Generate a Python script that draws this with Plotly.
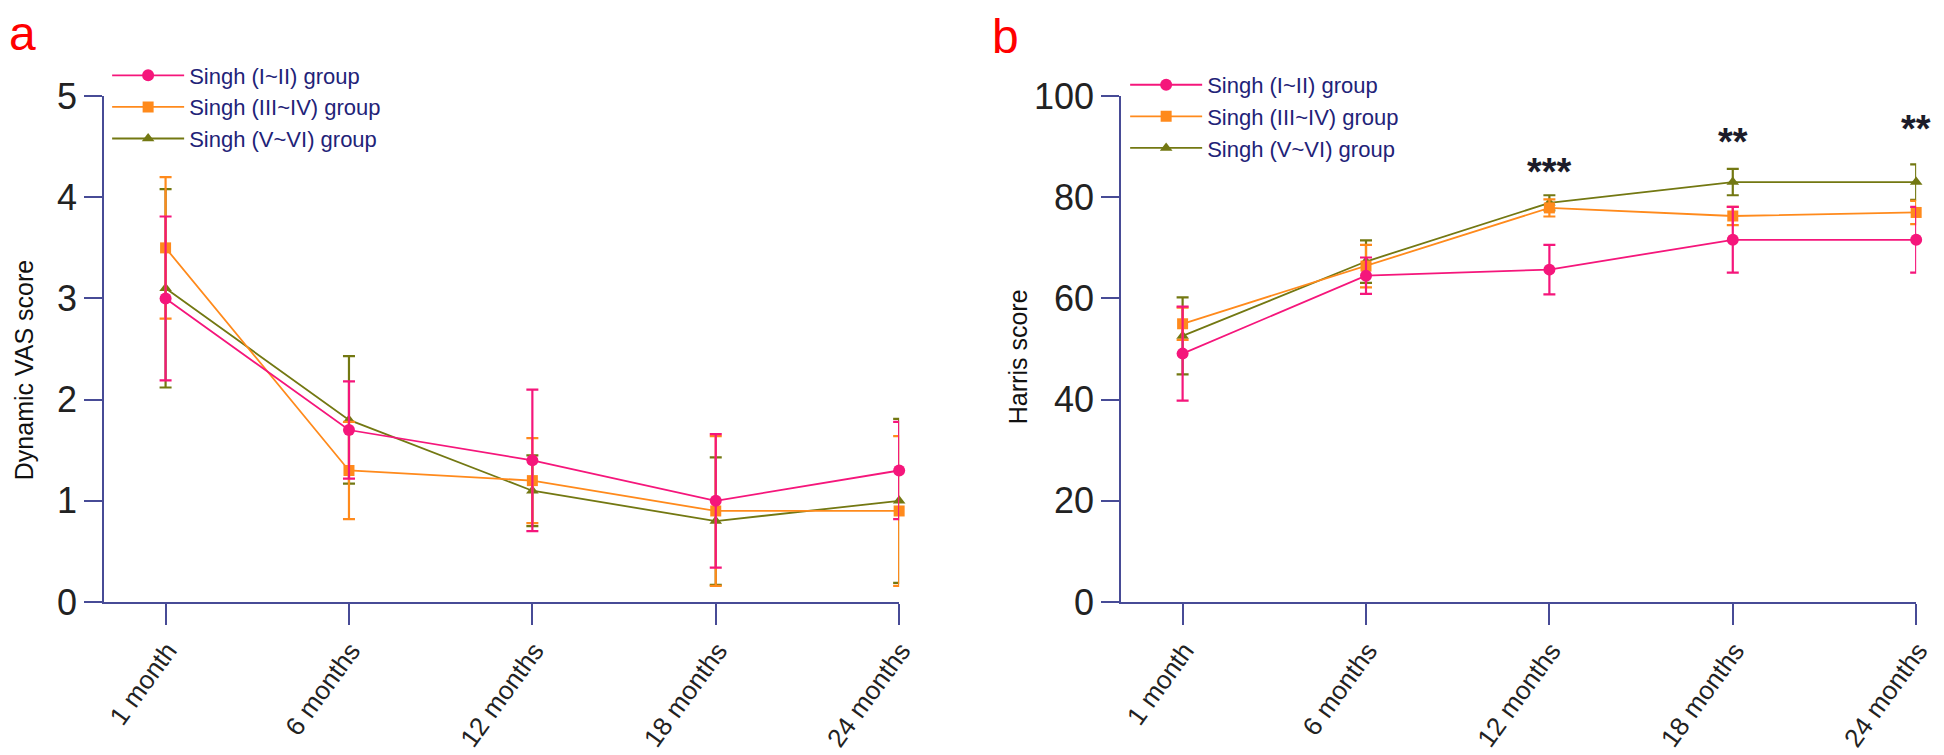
import plotly.graph_objects as go

categories = ["1 month", "6 months", "12 months", "18 months", "24 months"]
series_names = ["Singh (I~II) group", "Singh (III~IV) group", "Singh (V~VI) group"]

# Panel a: Dynamic VAS score (mean, SD)
vas_g1 = [3.0, 1.7, 1.4, 1.0, 1.3]
vas_g1_err = [0.81, 0.48, 0.70, 0.66, 0.48]
vas_g2 = [3.5, 1.3, 1.2, 0.9, 0.9]
vas_g2_err = [0.70, 0.48, 0.42, 0.74, 0.74]
vas_g3 = [3.1, 1.8, 1.1, 0.8, 1.0]
vas_g3_err = [0.98, 0.63, 0.35, 0.63, 0.81]

# Panel b: Harris score (mean, SD)
harris_g1 = [49.1, 64.5, 65.7, 71.6, 71.6]
harris_g1_err = [9.3, 3.6, 4.9, 6.5, 6.5]
harris_g2 = [55.0, 66.4, 77.9, 76.3, 77.0]
harris_g2_err = [3.2, 4.2, 1.7, 1.8, 2.3]
harris_g3 = [52.6, 67.3, 78.9, 83.0, 83.0]
harris_g3_err = [7.6, 4.2, 1.5, 2.6, 3.5]

sig_labels = ["***", "**", "**"]
sig_cats = ["12 months", "18 months", "24 months"]
sig_y = [85.0, 91.0, 93.5]

colors = ["#f5167b", "#ff8a1c", "#737812"]
symbols = ["circle", "square", "triangle-up"]
msizes = [12, 11, 11]

AXIS = "#474b96"
TEXT_BLUE = "#1f2378"
FONT = "Liberation Sans, Arial, sans-serif"

fig = go.Figure()

panels = [
    ("x", "y", "legend", [vas_g1, vas_g2, vas_g3], [vas_g1_err, vas_g2_err, vas_g3_err]),
    ("x2", "y2", "legend2", [harris_g1, harris_g2, harris_g3], [harris_g1_err, harris_g2_err, harris_g3_err]),
]

for xa, ya, lg, vals, errs in panels:
    for i in [2, 1, 0]:
        fig.add_trace(go.Scatter(
            x=categories, y=vals[i], name=series_names[i],
            xaxis=xa, yaxis=ya, legend=lg, legendrank=i + 1,
            mode="lines+markers",
            line=dict(color=colors[i], width=1.8),
            marker=dict(symbol=symbols[i], size=msizes[i], color=colors[i]),
            error_y=dict(type="data", array=errs[i], color=colors[i], thickness=2.2, width=6),
            cliponaxis=False,
        ))

xdom_a = [97 / 1944, 899 / 1944]
xdom_b = [1123 / 1944, 1925 / 1944]
ydom = [(755 - 607) / 755, (755 - 72) / 755]

common_x = dict(
    type="category", range=[-0.335, 4], showline=True, linecolor=AXIS, linewidth=2,
    ticks="outside", ticklen=21, tickwidth=2, tickcolor=AXIS, tickangle=-54,
    ticklabelshift=2,
    tickfont=dict(family=FONT, size=26, color="#222222"), showgrid=False, zeroline=False,
)
common_y = dict(
    showline=True, linecolor=AXIS, linewidth=2, ticks="outside", ticklen=18,
    tickwidth=2, tickcolor=AXIS, tickfont=dict(family=FONT, size=36, color="#222222"),
    showgrid=False, zeroline=False,
)

legend_common = dict(
    font=dict(family=FONT, size=22, color=TEXT_BLUE), bgcolor="rgba(0,0,0,0)",
    borderwidth=0, itemwidth=72, tracegroupgap=0, traceorder="normal",
    xanchor="left", yanchor="top",
)

fig.update_layout(
    width=1944, height=755,
    margin=dict(l=0, r=0, t=0, b=0),
    plot_bgcolor="white", paper_bgcolor="white",
    showlegend=True,
    xaxis=dict(domain=xdom_a, anchor="y", **common_x),
    yaxis=dict(domain=ydom, anchor="x", range=[0, 5], tickvals=[0, 1, 2, 3, 4, 5], **common_y),
    xaxis2=dict(domain=xdom_b, anchor="y2", **common_x),
    yaxis2=dict(domain=ydom, anchor="x2", range=[0, 100], tickvals=[0, 20, 40, 60, 80, 100], **common_y),
    legend=dict(x=100 / 1944, y=1 - 28 / 755, **legend_common),
    legend2=dict(x=1127 / 1944, y=1 - 38 / 755, **legend_common),
)

annotations = [
    dict(text="a", x=0, y=1 + 23 / 755, xref="paper", yref="paper", xanchor="left", yanchor="top",
         showarrow=False, borderpad=0, font=dict(family=FONT, size=48, color="#ff0000")),
    dict(text="b", x=992 / 1944, y=1 + 20 / 755, xref="paper", yref="paper", xanchor="left", yanchor="top",
         showarrow=False, borderpad=0, font=dict(family=FONT, size=48, color="#ff0000")),
    dict(text="Dynamic VAS score", x=16 / 1944, y=1 - 362 / 755, xref="paper", yref="paper",
         textangle=-90, showarrow=False, xanchor="center", yanchor="middle",
         font=dict(family=FONT, size=25, color="#111111")),
    dict(text="Harris score", x=1019 / 1944, y=1 - 348 / 755, xref="paper", yref="paper",
         textangle=-90, showarrow=False, xanchor="center", yanchor="middle",
         font=dict(family=FONT, size=25, color="#111111")),
]
for lab, cat, yv in zip(sig_labels, sig_cats, sig_y):
    annotations.append(dict(text="<b>" + lab + "</b>", x=cat, y=yv, xref="x2", yref="y2", showarrow=False,
                            xanchor="center", yanchor="middle",
                            font=dict(family=FONT, size=38, color="#1c1c2a")))
fig.update_layout(annotations=annotations)

fig.write_html("out.html")
